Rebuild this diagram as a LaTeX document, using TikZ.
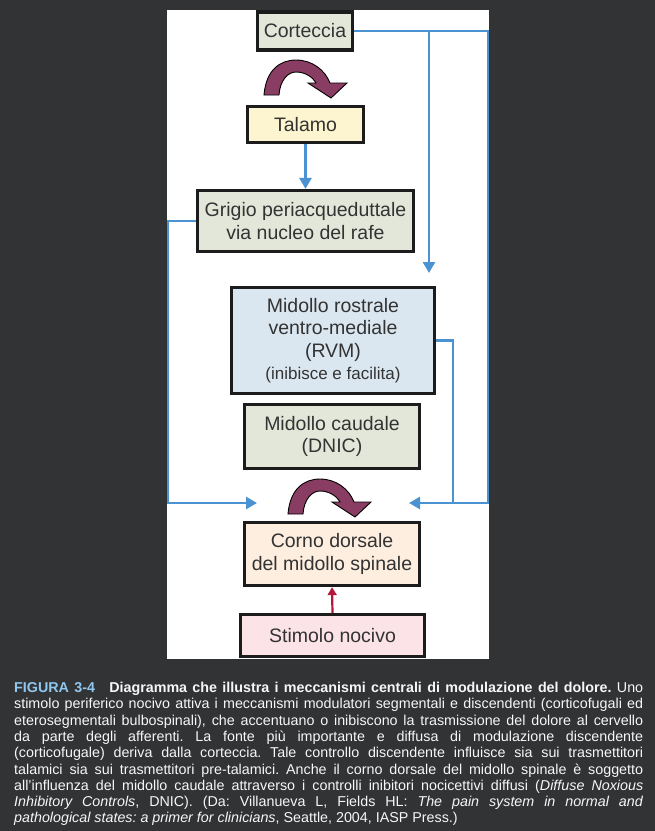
\documentclass[tikz,border=0pt]{standalone}
\usepackage{fontspec}
\setmainfont{Liberation Sans}
\usepackage{tikz}
\usetikzlibrary{arrows.meta, positioning}
\definecolor{pmBg}{HTML}{323335}
\definecolor{pmWire}{HTML}{4A92D2}
\definecolor{pmRed}{HTML}{B3163F}
\definecolor{pmBend}{HTML}{8A3D62}
\definecolor{pmInk}{HTML}{1C1C1C}
\definecolor{pmGrey}{HTML}{E3E7DA}
\definecolor{pmYellow}{HTML}{FCF5CF}
\definecolor{pmBlue}{HTML}{DBE7F0}
\definecolor{pmPeach}{HTML}{FDEEE0}
\definecolor{pmPink}{HTML}{FBE3E8}
\definecolor{pmCapBlue}{HTML}{8FC7EF}
\definecolor{pmCap}{HTML}{F7F7F7}
\frenchspacing

\begin{document}
\begin{tikzpicture}[
  x=1pt, y=-1pt,
  box/.style={draw=pmInk, line width=3.3pt, inner sep=0pt, align=center, text=pmInk!90!white,
    font=\fontsize{19.5}{22.5}\selectfont},
  wire/.style={draw=pmWire, line width=2.6pt, line join=miter},
  tip/.style={-{Triangle[length=11pt, width=12pt]}},
  bend/.pic={
    \filldraw[fill=pmBend, draw=black, line width=0.9pt]
      (2,37) .. controls (4,12) and (18,2) .. (34,2)
      .. controls (50,2) and (63,12) .. (68,25) -- (85,25) -- (69,40) -- (46,25) -- (54,25)
      .. controls (50,18) and (42,14) .. (34,14)
      .. controls (26,14) and (18,22) .. (17,37) -- cycle;
  }
]
  \fill[pmBg] (0,0) rectangle (655,831);
  \fill[white] (167,10) rectangle (489,659);

  % boxes
  \node[box, fill=pmGrey, minimum width=95, minimum height=38] (cortex) at (305,31) {Corteccia};
  \node[box, fill=pmYellow, minimum width=116, minimum height=36] (talamo) at (305.5,124.5) {Talamo};
  \node[box, fill=pmGrey, minimum width=216, minimum height=61] (grigio) at (305.5,221) {Grigio periacqueduttale\\via nucleo del rafe};
  \node[box, fill=pmBlue, minimum width=203, minimum height=106] (rvm) at (333,340.5)
    {Midollo rostrale\\ventro-mediale\\(RVM)\\{\fontsize{17}{22.5}\selectfont(inibisce e facilita)}};
  \node[box, fill=pmGrey, minimum width=175, minimum height=64] (caudale) at (332,436.5) {Midollo caudale\\(DNIC)};
  \node[box, fill=pmPeach, minimum width=175, minimum height=63] (corno) at (332,554) {Corno dorsale\\del midollo spinale};
  \node[box, fill=pmPink, minimum width=184, minimum height=42] (stimolo) at (332.5,635.5) {Stimolo nocivo};

  \pic at (262,58) {bend};
  \pic at (286,477) {bend};

  % connectors
  \coordinate (rbus) at (488,503);
  \coordinate (lbus) at (168,503);
  \coordinate (rvmbus) at (453,503);
  \coordinate (rightin) at (409,503);
  \coordinate (leftin) at (257,503);
  \coordinate (rvmin) at (429,273);

  \draw[wire, tip] (talamo.south) -- (grigio.north);
  \draw[wire, tip] (cortex.east) -| (rvmin);
  \draw[wire, tip] (cortex.east) -| (rbus) -- (rightin);
  \draw[wire, tip] (grigio.west) -| (lbus) -- (leftin);
  \draw[wire] (rvm.east) -| (rvmbus);
  \draw[draw=pmRed, line width=2.2pt, -{Triangle[length=8pt, width=9pt]}] (stimolo.north) -- (corno.south);

  % caption
  \node[anchor=north west, inner sep=0pt, text width=629pt, align=justify, text=pmCap,
    font=\fontsize{14.3}{16.3}\selectfont] (caption) at (14,682)
    {\textbf{\textcolor{pmCapBlue}{FIGURA 3-4}}\quad\textbf{Diagramma che illustra i meccanismi centrali di modulazione del dolore.} Uno\linebreak
     stimolo periferico nocivo attiva i meccanismi modulatori segmentali e discendenti (corticofugali ed\linebreak
     eterosegmentali bulbospinali), che accentuano o inibiscono la trasmissione del dolore al cervello\linebreak
     da parte degli afferenti. La fonte più importante e diffusa di modulazione discendente\linebreak
     (corticofugale) deriva dalla corteccia. Tale controllo discendente influisce sia sui trasmettitori\linebreak
     talamici sia sui trasmettitori pre-talamici. Anche il corno dorsale del midollo spinale è soggetto\linebreak
     all'influenza del midollo caudale attraverso i controlli inibitori nocicettivi diffusi (\textit{Diffuse Noxious}\linebreak
     \textit{Inhibitory Controls}, DNIC). (Da: Villanueva L, Fields HL: \textit{The pain system in normal and}\linebreak
     \textit{pathological states: a primer for clinicians}, Seattle, 2004, IASP Press.)};
\end{tikzpicture}
\end{document}
